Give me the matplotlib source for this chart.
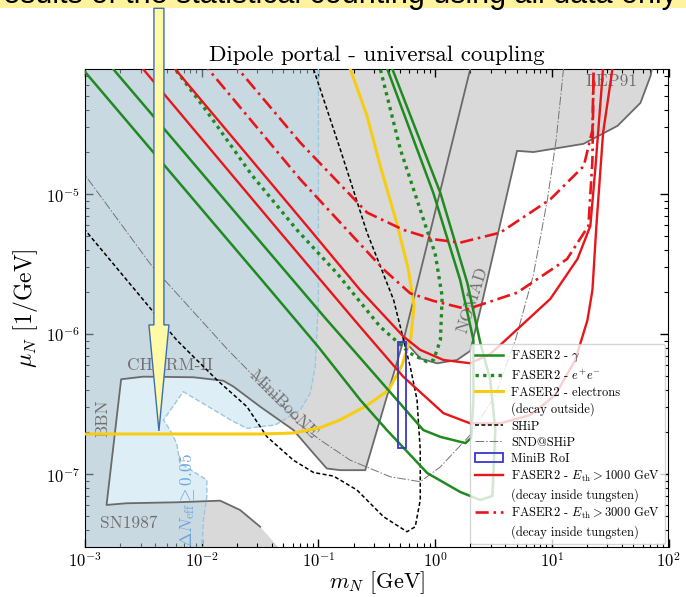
import matplotlib
matplotlib.use("Agg")
import matplotlib.pyplot as plt
from matplotlib.lines import Line2D
from matplotlib.patches import Polygon, Rectangle

plt.rcParams["font.family"] = "serif"
plt.rcParams["font.serif"] = ["cmr10", "DejaVu Serif"]
plt.rcParams["mathtext.fontset"] = "cm"
plt.rcParams["axes.formatter.use_mathtext"] = True

# --- colours ---
C_GREEN = "#1F8A1F"
C_RED = "#E8161B"
C_YELLOW = "#F7CD14"
C_GRAY_FILL = "#D9D9D9"
C_GRAY_EDGE = "#6A6A6A"
C_LABEL = "#707070"
C_BLUE_FILL = "#B7DBEC"
C_BLUE_EDGE = "#9CC7DD"
C_BLUE_TEXT = "#6FA6DA"

# --- excluded regions (m_N [GeV], mu_N [1/GeV]) ---
LEFT_GRAY_M = [9e-4, 2.15, 0.537, 0.386, 0.252, 0.154, 0.118, 0.0908, 0.0611, 0.0317,
               0.0187, 0.0153, 8.5e-3, 3.16e-3, 2.04e-3, 1.53e-3, 2.28e-3, 6.1e-3, 0.0144,
               0.0213, 0.0317, 0.051, 9e-4]
LEFT_GRAY_MU = [1e-4, 1e-4, 9.1e-7, 3.58e-7, 1.07e-7, 1.07e-7, 1.10e-7, 1.41e-7, 2.07e-7, 3.04e-7,
                4.23e-7, 4.66e-7, 4.93e-7, 4.98e-7, 4.77e-7, 6.04e-8, 6.21e-8, 6.31e-8, 6.48e-8,
                5.56e-8, 4.22e-8, 2.7e-8, 2.7e-8]

NOMAD_M = [0.537, 0.75, 1.04, 1.54, 2.0, 2.44, 5.04, 6.95, 18.7, 36.6, 57.5, 70.2, 76.0, 2.15]
NOMAD_MU = [9.1e-7, 6.7e-7, 6.2e-7, 6.55e-7, 7.6e-7, 1.49e-6, 2.04e-5, 2.0e-5, 2.29e-5, 3.08e-5,
            4.49e-5, 7.0e-5, 1e-4, 1e-4]

BLUE_M = [9e-4, 0.1, 0.1, 0.094, 0.0851, 0.0698, 0.0427, 0.0244, 0.0187, 6.96e-3, 4.7e-3,
          5.36e-3, 6.1e-3, 6.53e-3, 0.01107, 0.01107, 0.01035, 0.01, 9e-4]
BLUE_MU = [1e-4, 1e-4, 1.76e-6, 5.87e-7, 3.79e-7, 2.88e-7, 2.25e-7, 2.13e-7, 2.38e-7, 3.89e-7,
           2.44e-7, 2.07e-7, 1.66e-7, 1.2e-7, 9.1e-8, 6.92e-8, 4.72e-8, 2.7e-8, 2.7e-8]

# --- sensitivity curves ---
GAMMA1_M = [1.6e-3, 1.74e-3, 0.114, 0.228, 0.792, 1.11, 1.82, 2.04, 2.13, 2.13, 1.64, 0.966, 0.389, 0.365]
GAMMA1_MU = [8.5e-5, 7.85e-5, 1.31e-6, 6.78e-7, 2.07e-7, 1.85e-7, 1.67e-7, 1.82e-7, 3.4e-7, 9.1e-7,
             2.44e-6, 1.02e-5, 7.85e-5, 9e-5]
GAMMA2_M = [9e-4, 1e-3, 0.0387, 0.1, 0.228, 0.386, 0.857, 1.64, 2.44, 3.1, 3.28, 2.97, 2.44, 1.89,
            1.11, 0.43, 0.401]
GAMMA2_MU = [8.3e-5, 7.48e-5, 2.07e-6, 8.11e-7, 3.4e-7, 2.07e-7, 1.02e-7, 7.48e-8, 6.55e-8, 7.0e-8,
             2.07e-7, 4.72e-7, 8.67e-7, 2.32e-6, 1.02e-5, 7.85e-5, 9e-5]

EE_M = [5.6e-3, 5.91e-3, 0.0107, 0.0269, 0.0655, 0.144, 0.339, 0.612, 0.851, 0.97, 1.11, 1.15,
        1.0, 0.851, 0.504, 0.339, 0.32]
EE_MU = [8.5e-5, 7.85e-5, 4.06e-5, 1.37e-5, 5.56e-6, 2.73e-6, 1.13e-6, 7.31e-7, 6.37e-7, 6.55e-7,
         9.1e-7, 1.86e-6, 3.79e-6, 5.56e-6, 2.09e-5, 7.85e-5, 9e-5]

ELEC_M = [9e-4, 0.0317, 0.0608, 0.1035, 0.154, 0.261, 0.40, 0.52, 0.62, 0.66, 0.59, 0.47, 0.339,
          0.261, 0.1875, 0.18]
ELEC_MU = [1.94e-7, 1.94e-7, 1.97e-7, 2.15e-7, 2.45e-7, 3.1e-7, 4.0e-7, 6.0e-7, 9.5e-7, 1.6e-6,
           2.9e-6, 6.2e-6, 1.59e-5, 3.63e-5, 7.85e-5, 9e-5]

SHIP_M = [9e-4, 1e-3, 3.16e-3, 6.1e-3, 0.0135, 0.0244, 0.0361, 0.0611, 0.0908, 0.135, 0.214, 0.361,
          0.574, 0.676, 0.746, 0.746, 0.70, 0.612, 0.537, 0.441, 0.261, 0.154, 0.0908, 0.085]
SHIP_MU = [6.2e-6, 5.56e-6, 1.76e-6, 9.1e-7, 4.72e-7, 3.04e-7, 1.86e-7, 1.26e-7, 1.03e-7, 9.7e-8,
           7.72e-8, 4.98e-8, 3.89e-8, 4.22e-8, 6.55e-8, 1.49e-7, 3.4e-7, 5.87e-7, 9.1e-7, 1.76e-6,
           5.32e-6, 2.09e-5, 7.85e-5, 9e-5]

SND_M = [9e-4, 1e-3, 3.73e-3, 0.0168, 0.0387, 0.0698, 0.1035, 0.1875, 0.413, 0.746, 1.11, 2.0,
         3.28, 4.88, 6.95, 9.16, 10.9, 12.6, 12.8]
SND_MU = [1.55e-5, 1.37e-5, 3.08e-6, 7.73e-7, 3.81e-7, 2.25e-7, 1.76e-7, 1.26e-7, 9.6e-8, 8.85e-8,
          1.13e-7, 1.91e-7, 3.68e-7, 9.1e-7, 2.65e-6, 9.1e-6, 2.44e-5, 7.85e-5, 9e-5]

E1000A_M = [5.2e-3, 5.91e-3, 0.0851, 0.228, 0.537, 0.746, 1.18, 2.0, 2.97, 3.62, 9.72, 16.6, 21.4,
            23.7, 27.2, 27.7]
E1000A_MU = [8.9e-5, 7.85e-5, 5.56e-6, 2.07e-6, 9.61e-7, 7.73e-7, 6.55e-7, 6.21e-7, 7.23e-7, 8.39e-7,
             1.79e-6, 3.45e-6, 5.94e-6, 1.59e-5, 7.0e-5, 9e-5]
E1000B_M = [2.8e-3, 3.14e-3, 0.0452, 0.228, 0.533, 1.18, 2.0, 3.62, 6.55, 10.7, 15.9, 20.2, 22.3,
            24.1, 27.5, 33.1, 33.8]
E1000B_MU = [8.8e-5, 7.85e-5, 5.56e-6, 1.13e-6, 4.98e-7, 2.73e-7, 2.31e-7, 2.31e-7, 2.65e-7, 3.68e-7,
             6.55e-7, 1.26e-6, 2.07e-6, 5.94e-6, 2.74e-5, 7.85e-5, 9e-5]

E3000A_M = [0.0175, 0.0205, 0.0698, 0.261, 0.537, 0.97, 1.64, 3.62, 9.72, 18.8, 22.3, 22.8, 22.9]
E3000A_MU = [9.1e-5, 7.85e-5, 2.34e-5, 7.4e-6, 5.56e-6, 4.77e-6, 4.51e-6, 5.32e-6, 9.2e-6, 1.59e-5,
             2.88e-5, 7.85e-5, 9e-5]
E3000B_M = [9.7e-3, 0.01135, 0.0698, 0.1754, 0.361, 0.612, 0.97, 1.88, 5.04, 13.5, 20.6, 22.3, 22.8, 22.9]
E3000B_MU = [9.1e-5, 7.85e-5, 1.28e-5, 5.57e-6, 2.91e-6, 1.96e-6, 1.73e-6, 1.51e-6, 1.98e-6, 3.44e-6,
             5.94e-6, 1.75e-5, 7.85e-5, 9e-5]

MINIB_M = [0.483, 0.568]
MINIB_MU = [1.53e-7, 8.8e-7]

# --- region labels: (text, m, mu, rotation, colour) ---
REGION_LABELS = [
    ("CHARM-II", 5.36e-3, 6.0e-7, 0, C_LABEL),
    ("BBN", 1.43e-3, 2.52e-7, 90, C_LABEL),
    ("SN1987", 2.38e-3, 4.49e-8, 0, C_LABEL),
    ("MiniBooNE", 0.0499, 3.13e-7, -45, C_LABEL),
    ("NOMAD", 2.08, 1.76e-6, 72, C_LABEL),
    ("LEP91", 32.4, 6.44e-5, 0, C_LABEL),
    (r"$\Delta N_{\rm eff} \geq 0.05$", 7.5e-3, 6.55e-8, 90, C_BLUE_TEXT),
]

ARROW_TIP = (4.3e-3, 2.04e-7)
BANNER_TEXT = "results of the statistical counting using all data only using the full length"

W, H = 686, 597
fig = plt.figure(figsize=(W / 100, H / 100), dpi=100)
ax = fig.add_axes([85 / W, 50.3 / H, 583.5 / W, 477.4 / H])
ax.set_xscale("log")
ax.set_yscale("log")
ax.set_xlim(1e-3, 1e2)
ax.set_ylim(3.04e-8, 7.8e-5)

# regions
ax.fill(LEFT_GRAY_M, LEFT_GRAY_MU, color=C_GRAY_FILL, lw=0, zorder=1)
ax.fill(NOMAD_M, NOMAD_MU, color=C_GRAY_FILL, lw=0, zorder=1)
ax.fill(BLUE_M, BLUE_MU, color=C_BLUE_FILL, alpha=0.47, lw=0, zorder=2)
ax.plot(LEFT_GRAY_M[1:-2], LEFT_GRAY_MU[1:-2], color=C_GRAY_EDGE, lw=1.3, zorder=3)
ax.plot(NOMAD_M[:-1], NOMAD_MU[:-1], color=C_GRAY_EDGE, lw=1.3, zorder=3)
ax.plot(BLUE_M[1:-1], BLUE_MU[1:-1], color=C_BLUE_EDGE, lw=1.0, ls="--", zorder=3)

for text, m, mu, rot, col in REGION_LABELS:
    ax.text(m, mu, text, rotation=rot, color=col, fontsize=12.5,
            ha="center", va="center", rotation_mode="anchor", zorder=3)

# curves
ax.plot(SND_M, SND_MU, color="0.45", lw=0.7, ls=(0, (9, 2, 1.5, 2)), zorder=4)
ax.plot(SHIP_M, SHIP_MU, color="black", lw=1.1, ls=(0, (2.6, 1.6)), zorder=4)
ax.plot(ELEC_M, ELEC_MU, color=C_YELLOW, lw=2.2, zorder=5)
ax.plot(GAMMA1_M, GAMMA1_MU, color=C_GREEN, lw=1.8, zorder=5)
ax.plot(GAMMA2_M, GAMMA2_MU, color=C_GREEN, lw=1.8, zorder=5)
ax.plot(EE_M, EE_MU, color=C_GREEN, lw=2.4, ls=(0, (1, 1.3)), zorder=5)
ax.plot(E1000A_M, E1000A_MU, color=C_RED, lw=1.7, zorder=5)
ax.plot(E1000B_M, E1000B_MU, color=C_RED, lw=1.7, zorder=5)
ax.plot(E3000A_M, E3000A_MU, color=C_RED, lw=1.9, ls=(0, (5, 1.8, 1, 1.8)), zorder=5)
ax.plot(E3000B_M, E3000B_MU, color=C_RED, lw=1.9, ls=(0, (5, 1.8, 1, 1.8)), zorder=5)
ax.add_patch(Rectangle((MINIB_M[0], MINIB_MU[0]), MINIB_M[1] - MINIB_M[0], MINIB_MU[1] - MINIB_MU[0],
                       fill=False, edgecolor="#3838C8", lw=1.3, zorder=6))

# legend
blank = Line2D([], [], color="none")
handles = [
    Line2D([], [], color=C_GREEN, lw=1.8),
    Line2D([], [], color=C_GREEN, lw=2.4, ls=(0, (1, 1.3))),
    Line2D([], [], color=C_YELLOW, lw=2.2),
    blank,
    Line2D([], [], color="black", lw=1.1, ls=(0, (2.6, 1.6))),
    Line2D([], [], color="0.45", lw=0.7, ls=(0, (9, 2, 1.5, 2))),
    Rectangle((0, 0), 1, 1, fill=False, edgecolor="#3838C8", lw=1.3),
    Line2D([], [], color=C_RED, lw=1.7),
    blank,
    Line2D([], [], color=C_RED, lw=1.9, ls=(0, (5, 1.8, 1, 1.8))),
    blank,
]
labels = [
    r"FASER2 - $\gamma$",
    r"FASER2 - $e^{+}e^{-}$",
    "FASER2 - electrons",
    "(decay outside)",
    "SHiP",
    "SND@SHiP",
    "MiniB RoI",
    r"FASER2 - $E_{\rm th} > 1000$ GeV",
    "(decay inside tungsten)",
    r"FASER2 - $E_{\rm th} > 3000$ GeV",
    "(decay inside tungsten)",
]
leg = ax.legend(handles, labels, loc="lower right", fontsize=9, framealpha=0.8,
                borderaxespad=0.25, labelspacing=0.32, handlelength=2.2, handletextpad=0.7)
leg.set_zorder(8)

# axes styling
ax.tick_params(which="both", direction="in", top=True, right=True, labelsize=12)
ax.tick_params(which="major", length=6, width=1.0)
ax.tick_params(which="minor", length=3, width=0.8)
ax.set_xlabel(r"$m_N$ [GeV]", fontsize=16, labelpad=-1)
ax.set_ylabel(r"$\mu_N$ [1/GeV]", fontsize=17, labelpad=4)
ax.set_title("Dipole portal - universal coupling", fontsize=16.5, pad=6)

# overlay from the slide: banner strip and arrow
fig.add_artist(Rectangle((0, 1 - 8.3 / H), 1, 8.3 / H, transform=fig.transFigure,
                         facecolor="#FFF3A0", edgecolor="none", zorder=20))
fig.text(-0.01, 1 - 3.5 / H, BANNER_TEXT, fontsize=22, family="Liberation Sans",
         va="baseline", ha="left", color="black", zorder=21)

tx, ty = fig.transFigure.inverted().transform(ax.transData.transform(ARROW_TIP))
top = 1 - 8.3 / H
sw, hw, hl = 5 / W, 10 / W, 106 / H
arrow = Polygon([(tx - sw, top), (tx + sw, top), (tx + sw, ty + hl), (tx + hw, ty + hl), (tx, ty),
                 (tx - hw, ty + hl), (tx - sw, ty + hl)], closed=True, transform=fig.transFigure,
                facecolor="#FFF9A8", edgecolor="#3A6FB0", lw=1.0, zorder=22)
fig.add_artist(arrow)

fig.savefig("out.png", dpi=100)
